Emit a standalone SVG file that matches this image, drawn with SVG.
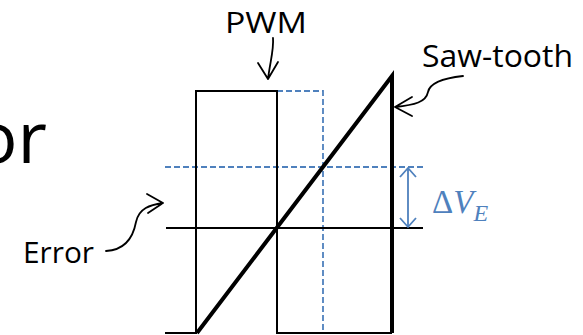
<svg xmlns="http://www.w3.org/2000/svg" width="583" height="335" viewBox="0 0 583 335">
<style>
.t{font-family:"Open Sans","Noto Sans","Liberation Sans",sans-serif;fill:#000}
.k{fill:none;stroke:#000;stroke-linecap:round;stroke-linejoin:round}
.b{fill:none;stroke:#4f81bd;stroke-width:1.8}
.d{stroke-dasharray:6 3}
</style>
<rect width="583" height="335" fill="#fff"/>
<g id="title"><text class="t" x="47" y="163" font-size="72" text-anchor="end">or</text></g>
<g id="guides">
<path class="b d" d="M165 167H425"/>
<path class="b d" d="M277 91H323V333"/>
</g>
<g id="pwm"><path fill="none" stroke="#000" stroke-width="2" d="M165 333H196V91H277V333H392"/></g>
<g id="error-line"><path fill="none" stroke="#000" stroke-width="2" d="M166 228H423"/></g>
<g id="sawtooth"><path fill="none" stroke="#000" stroke-width="4" stroke-linejoin="miter" d="M197 333L392 76V333"/></g>
<g id="delta">
<path class="b" d="M408 168V227M400 177L408 168L416 177M400 218L408 227L416 218"/>
<text x="432" y="213" font-family="'Liberation Serif',serif" font-size="33" fill="#4f81bd">Δ<tspan font-style="italic">V</tspan><tspan font-style="italic" font-size="24" dy="8">E</tspan></text>
</g>
<g id="label-pwm">
<text class="t" x="266" y="33" font-size="30" text-anchor="middle" textLength="82" lengthAdjust="spacingAndGlyphs">PWM</text>
<path class="k" stroke-width="1.8" d="M273 38C274 50 270 62 268 79M258 63L268 79L278 62"/>
</g>
<g id="label-saw">
<text class="t" x="422" y="67" font-size="31" textLength="151" lengthAdjust="spacingAndGlyphs">Saw-tooth</text>
<path class="k" stroke-width="1.8" d="M463 76C445 78 430 82 428 92C426 102 415 105 395 107M412 97L395 107L412 116"/>
</g>
<g id="label-error">
<text class="t" x="23" y="263" font-size="29" textLength="71" lengthAdjust="spacingAndGlyphs">Error</text>
<path class="k" stroke-width="1.8" d="M106 251C125 250 133 238 136 222C139 208 150 205 163 203M147 194L163 203L148 213"/>
</g>
</svg>
